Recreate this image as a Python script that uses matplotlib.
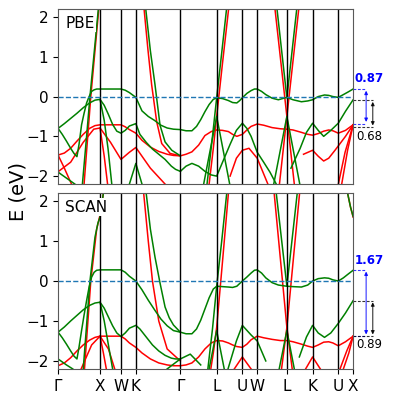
import matplotlib
matplotlib.use('Agg')
import matplotlib.pyplot as plt

# high-symmetry points along the path (units of 2pi/a)
G0, X1, W1, K1, G1, L1 = 0.0, 1.0, 1.5, 1.854, 2.914, 3.780
U1, W2, L2, K2, U2, X2 = 4.392, 4.746, 5.453, 6.066, 6.678, 7.032
kticks = [G0, X1, W1, K1, G1, L1, U1, W2, L2, K2, U2, X2]
klabels = ['Γ', 'X', 'W', 'K', 'Γ', 'L', 'U', 'W', 'L', 'K', 'U', 'X']

# k grids used by the long bands
k_gx = [G0, 0.1, 0.2, 0.3, 0.38, 0.45, 0.5, 0.56, 0.62, 0.68, 0.74, 0.8, 0.86, 0.92, X1]
k_long = [G0, 0.15, 0.3, 0.45, 0.6, 0.75, 0.88, X1, W1, 1.6, 1.7, K1, 2.0, 2.2, 2.4, 2.6, 2.75, G1,
          3.05, 3.19, 3.35, 3.5, 3.65, L1, 3.92, 4.06, 4.16, 4.26, U1, 4.5, 4.6, W2, 4.9, 5.1, 5.3,
          L2, 5.6, 5.8, 5.95, K2, 6.2, 6.33, 6.45, 6.55, U2, 6.85, X2]
k_top = [W1, 1.6, 1.7, K1, 2.0, 2.15, 2.3, 2.45, 2.6, 2.75, G1, 3.05, 3.19, 3.3, 3.4, 3.5, 3.6,
         3.7, L1, 3.92, 4.06, 4.16, 4.26, 4.33, U1, 4.5, 4.6, 4.68, W2, 4.85, 4.95, 5.1, 5.25, L2,
         5.6, 5.8, 5.95, K2, 6.2, 6.35, 6.45, 6.55, U2, 6.8, 6.92, X2]
k_mid = [G0, 0.15, 0.3, 0.45, 0.6, 0.75, 0.88, X1, 1.1, 1.2, 1.3, 1.4, W1, 1.6, 1.7, K1, 1.95,
         2.1, 2.25, 2.4, 2.55, 2.7, 2.8, G1]

# ---- PBE bands (k, E) ----
pbe_fermi = [-0.8, -0.95, -1.12, -1.3, -1.43, -1.51, -1.2, -0.71, -0.42, -0.16, 0.0, 0.13, 0.17,
             0.19, 0.19,
             0.19, 0.16, 0.1, -0.02, -0.36, -0.5, -0.6, -0.72, -0.79, -0.82, -0.83,
             -0.86, -0.86, -0.75, -0.58, -0.38, -0.2, -0.07, -0.03,
             -0.05, -0.1, -0.15, -0.16, -0.1, -0.03, 0.08, 0.15, 0.19, 0.19,
             0.13, 0.05, -0.04, -0.08, -0.02, -0.08, -0.13, -0.11, -0.08,
             0.0, 0.04, 0.03, 0.0, -0.02, 0.05, 0.12, 0.19]
pbe_g2 = [-0.8, -0.68, -0.55, -0.42, -0.28, -0.16, -0.09, -0.07, -0.22, -0.45, -0.7, -0.87, -0.92,
          -0.85, -0.74, -0.68, -0.95, -1.15, -1.32, -1.45, -1.58, -1.75, -1.83, -1.88]
pbe_r1 = [-1.47, -1.42, -1.3, -1.12, -0.95, -0.8, -0.73, -0.71, -0.71, -0.76, -0.83, -0.92, -1.1,
          -1.27, -1.38, -1.45, -1.48, -1.49, -1.45, -1.39, -1.22, -0.98, -0.88, -0.84, -0.85, -0.88,
          -0.95, -1.0, -0.95, -0.84, -0.75, -0.69, -0.72, -0.78, -0.81, -0.82, -0.84, -0.9, -0.95,
          -0.97, -0.93, -0.87, -0.84, -0.86, -0.92, -0.85, -0.71]

pbe_green = [
    (k_gx + k_top, pbe_fermi),
    (k_mid, pbe_g2),
    ([2.09, 2.2, 2.31, 2.43, 2.55, 2.71, G1], [2.2, 1.15, 0.3, -0.72, -1.14, -1.35, -1.49]),
    ([G1, 3.05, 3.19, 3.35, 3.5, 3.65, L1, 3.9, 4.1, 4.25, U1, 4.5, 4.6, W2, 4.9, 5.05, 5.2],
     [-1.88, -1.75, -1.68, -1.75, -1.88, -1.97, -2.0, -1.7, -1.2, -0.85, -0.67, -0.8, -1.0, -1.4,
      -1.65, -1.9, -2.2]),
    ([5.55, 5.77, 5.92, K2, 6.2, 6.33, 6.5, U2, 6.85, X2],
     [-1.8, -1.3, -0.9, -0.67, -0.85, -1.0, -0.85, -0.67, -0.37, -0.08]),
    ([0.58, 0.68, 0.76, 0.86, 0.96], [-2.2, -1.0, 0.0, 1.1, 2.2]),
    ([X1, 1.1, 1.19, 1.28], [-0.07, -0.6, -1.3, -2.2]),
    ([3.55, 3.67, L1, 3.9, 4.015], [-2.2, -1.1, -0.03, 1.1, 2.2]),
    ([3.47, L1, 4.09], [-2.2, -0.5, -2.2]),
    ([5.218, L2, 5.688], [2.2, -0.03, 2.2]),
    ([5.14, L2, 5.76], [-2.2, -0.5, -2.2]),
    ([G0, 0.2, 0.4], [-1.9, -2.05, -2.2]),
    ([1.7, K1, 2.0], [-2.2, -1.68, -2.2]),
]
pbe_red = [
    (k_long, pbe_r1),
    ([G0, 0.3, 0.6, 0.85, X1, 1.25, W1, 1.7, K1, 2.2, 2.55],
     [-1.89, -1.65, -1.15, -0.82, -0.79, -1.15, -1.58, -1.4, -1.28, -1.8, -2.2]),
    ([0.62, 0.78, 0.97], [-2.2, 0.0, 2.2]),
    ([X1, 1.1, 1.18], [-0.79, -1.5, -2.2]),
    ([G0, 0.15, 0.32], [-1.47, -1.8, -2.2]),
    ([2.05, 2.14, 2.23, 2.35, 2.47, 2.67, G1], [2.2, 1.2, 0.3, -0.63, -1.18, -1.43, -1.49]),
    ([3.60, 3.7, L1, 3.92, 4.064], [-2.2, -1.3, -0.5, 0.85, 2.2]),
    ([5.17, L2, 5.63], [2.2, -0.5, -2.2]),
    ([5.736, L2, 5.276], [2.2, -0.5, -2.2]),
    ([6.68, 6.84, X2], [-2.2, -1.4, -0.71]),
    ([6.76, 6.9, X2], [-2.2, -1.35, -0.71]),
    ([5.85, K2, 6.2, 6.33, 6.45, 6.6, 6.85, X2], [-1.45, -1.35, -1.5, -1.62, -1.55, -1.35, -1.0, -0.71]),
    ([4.1, 4.25, U1, 4.55, W2, 5.0], [-2.0, -1.55, -1.35, -1.3, -1.55, -2.2]),
]

# ---- SCAN bands (k, E) ----
scan_fermi = [-1.28, -1.42, -1.58, -1.75, -1.88, -1.95, -1.65, -1.24, -0.85, -0.49, -0.15, 0.1,
              0.22, 0.27, 0.28, 0.28, 0.22, 0.12, 0.0, -0.22, -0.48, -0.72, -0.95, -1.12, -1.24,
              -1.28, -1.32, -1.32, -1.2, -0.98, -0.7, -0.42, -0.2, -0.13, -0.14, -0.15, -0.16,
              -0.13, -0.06, 0.0, 0.1, 0.2, 0.27, 0.28, 0.2, 0.08, -0.04, -0.1, -0.13, -0.14, -0.15,
              -0.1, 0.0, 0.06, 0.08, 0.07, 0.03, 0.0, 0.08, 0.18, 0.27]
scan_g2 = [-1.28, -1.15, -1.0, -0.86, -0.72, -0.61, -0.55, -0.53, -0.68, -0.9, -1.12, -1.3, -1.39,
           -1.3, -1.18, -1.11, -1.2, -1.4, -1.6, -1.75, -1.86, -1.93, -1.95, -1.95]
scan_r1 = [-2.12, -2.05, -1.92, -1.75, -1.6, -1.48, -1.41, -1.38, -1.38, -1.45, -1.55, -1.66, -1.8,
           -1.95, -2.05, -2.1, -2.12, -2.12, -2.1, -2.05, -1.9, -1.7, -1.55, -1.49, -1.5, -1.55,
           -1.6, -1.64, -1.66, -1.58, -1.47, -1.38, -1.42, -1.46, -1.49, -1.49, -1.52, -1.58,
           -1.63, -1.66, -1.6, -1.53, -1.52, -1.55, -1.62, -1.52, -1.38]

scan_green = [
    (k_gx + k_top, scan_fermi),
    (k_mid, scan_g2),
    ([0.6, 0.68, 0.76, 0.88, 0.95, X1, 1.08], [-2.2, -1.1, 0.0, 1.1, 1.45, 1.6, 2.2]),
    ([X1, 1.1, 1.2, 1.3], [-0.53, -1.0, -1.6, -2.2]),
    ([2.1, 2.2, 2.31, 2.43, 2.55, 2.65, 2.75, G1], [2.2, 1.3, 0.6, -0.05, -0.65, -0.92, -1.1, -1.28]),
    ([3.57, 3.68, L1, 3.9, 4.02], [-2.2, -1.2, -0.13, 1.0, 2.2]),
    ([3.6, L1, 3.96], [-2.2, -1.24, -2.2]),
    ([5.2, L2, 5.7], [2.2, -0.13, 2.2]),
    ([5.27, L2, 5.63], [-2.2, -1.24, -2.2]),
    ([4.05, 4.25, U1, 4.6, W2, 4.95], [-2.2, -1.5, -1.11, -1.35, -1.5, -2.0]),
    ([5.75, 5.92, K2, 6.2, 6.35, 6.5, U2, 6.85, X2],
     [-1.9, -1.4, -1.11, -1.3, -1.41, -1.3, -1.06, -0.8, -0.49]),
    ([G0, 0.2, 0.35], [-1.95, -2.1, -2.2]),
    ([2.6, G1, 3.15, 3.4], [-2.2, -1.95, -1.83, -2.1]),
    ([6.9, 6.97, X2], [2.2, 1.85, 1.62]),
]
scan_red = [
    (k_long, scan_r1),
    ([0.55, 0.8, X1, 1.2, 1.35], [-2.2, -1.6, -1.38, -1.7, -2.2]),
    ([0.63, 0.78, 0.92, X1, 1.08], [-2.2, 0.0, 1.3, 1.65, 2.2]),
    ([X1, 1.08, 1.15], [-1.38, -1.8, -2.2]),
    ([2.04, 2.15, 2.25, 2.4, 2.6, G1], [2.2, 1.0, 0.0, -1.0, -1.7, -2.0]),
    ([3.64, 3.7, L1, 3.92, 4.06], [-2.2, -1.8, -1.16, 0.5, 2.2]),
    ([5.15, L2, 5.58], [2.2, -1.16, -2.2]),
    ([5.756, L2, 5.326], [2.2, -1.16, -2.2]),
    ([6.72, 6.88, X2], [-2.2, -1.75, -1.38]),
    ([6.8, 6.93, X2], [-2.2, -1.8, -1.38]),
    ([6.9, 6.97, X2], [2.2, 1.85, 1.6]),
    ([4.2, U1, 4.6], [-2.2, -1.9, -2.2]),
    ([5.9, K2, 6.25], [-2.2, -1.9, -2.2]),
]

# gap markers at X: (top, bottom, label)
pbe_blue_gap = (0.19, -0.68, '0.87')
pbe_black_gap = (-0.09, -0.77, '0.68')
scan_blue_gap = (0.28, -1.38, '1.67')
scan_black_gap = (-0.49, -1.38, '0.89')


def draw_panel(ax, green, red, name, blue_gap, black_gap, text_y):
    for k, e in red:
        ax.plot(k, e, color='red', lw=1.1)
    for k, e in green:
        ax.plot(k, e, color='green', lw=1.1)
    for x in kticks[1:-1]:
        ax.axvline(x, color='black', lw=1.0)
    ax.axhline(0, color='C0', ls='--', lw=1.0)
    ax.set_xlim(G0, X2)
    ax.set_ylim(-2.2, 2.2)
    ax.set_yticks([-2, -1, 0, 1, 2])
    ax.set_yticklabels(['−2', '−1', '0', '1', '2'], fontsize=11)
    ax.set_xticks(kticks)
    for sp in ax.spines.values():
        sp.set_color('0.35')
    ax.text(0.025, 0.92, name, transform=ax.transAxes, fontsize=11, va='center',
            bbox=dict(facecolor='white', edgecolor='none', pad=1), zorder=5)

    # gap annotation on the right of the last X
    for (top, bot, lab), xa, xe, col in [(blue_gap, 7.342, 7.342, 'blue'),
                                         (black_gap, 7.50, 7.516, 'black')]:
        for y in (top, bot):
            ax.plot([X2, xe], [y, y], color=col, ls='--', lw=0.8, dashes=(2.5, 1.5),
                    clip_on=False, alpha=0.8)
        ax.annotate('', xy=(xa, bot + 0.04), xytext=(xa, top - 0.04),
                    arrowprops=dict(arrowstyle='<|-|>', color=col, lw=0.8,
                                    shrinkA=0, shrinkB=0, mutation_scale=5, alpha=0.8),
                    annotation_clip=False)
    ax.text(7.41, text_y[0], blue_gap[2], color='blue', fontsize=8.5, ha='center',
            va='center', fontweight='semibold', clip_on=False)
    ax.text(7.41, text_y[1], black_gap[2], color='black', fontsize=8.5, ha='center',
            va='center', clip_on=False)


fig = plt.figure(figsize=(3.95, 3.95), dpi=100)
ax1 = fig.add_axes([0.147, 0.534, 0.747, 0.443])
ax2 = fig.add_axes([0.147, 0.066, 0.747, 0.445])

draw_panel(ax1, pbe_green, pbe_red, 'PBE', pbe_blue_gap, pbe_black_gap, (0.45, -1.0))
draw_panel(ax2, scan_green, scan_red, 'SCAN', scan_blue_gap, scan_black_gap, (0.52, -1.59))

ax1.set_xticklabels([])
ax1.tick_params(axis='x', length=0)
ax2.set_xticklabels(klabels, fontsize=11)

fig.text(0.045, 0.515, 'E (eV)', rotation=90, fontsize=14, ha='center', va='center')

fig.savefig('out.png', dpi=100)
